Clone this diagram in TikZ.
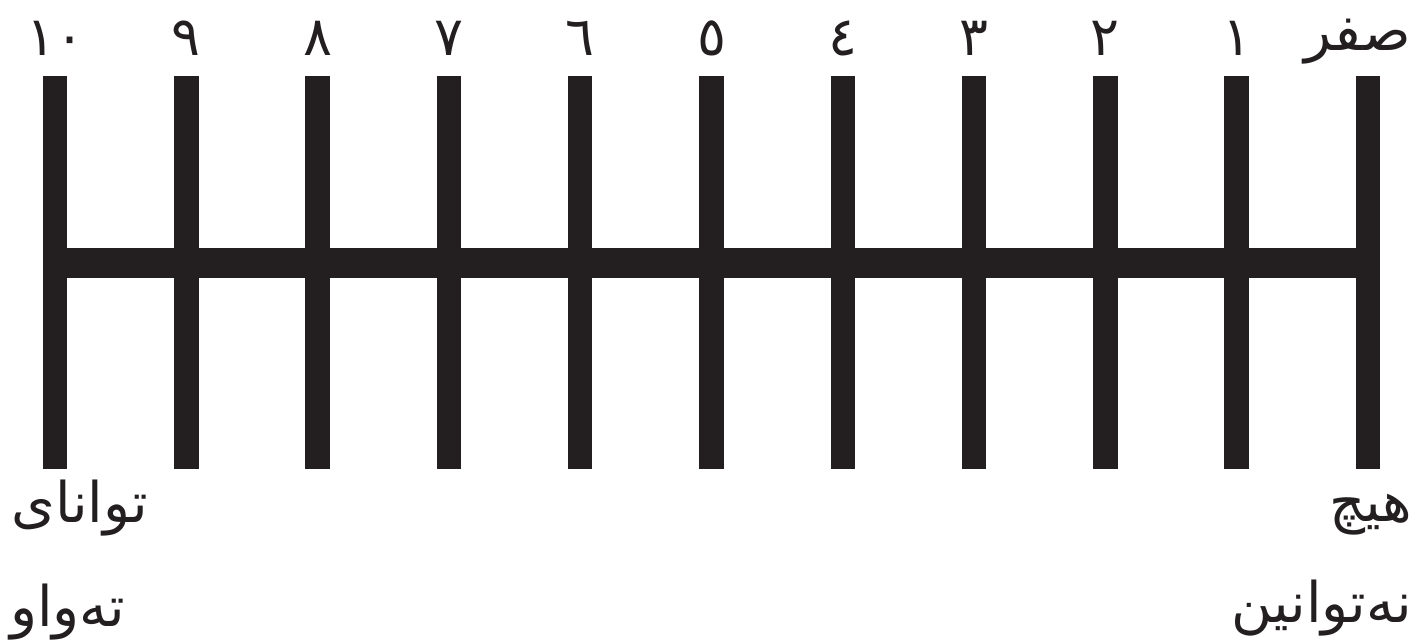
\documentclass[tikz,border=0pt]{standalone}
\usepackage{fontspec}
\TeXXeTstate=1
\newfontfamily\arabicfont[Script=Arabic]{DejaVu Sans}
\definecolor{barblack}{RGB}{35,31,32}
\tikzset{
  vbar/.style={draw=barblack, line width=24.5pt},
  hbar/.style={draw=barblack, line width=30pt},
  digit/.style={font=\arabicfont\fontsize{54}{60}\selectfont, text=barblack, inner sep=0pt},
  word/.style={font=\arabicfont\fontsize{56}{64}\selectfont, text=barblack, inner sep=0pt},
}
\begin{document}
\begin{tikzpicture}[x=1pt,y=-1pt]
\useasboundingbox (0,0) rectangle (1414,641);
% bar positions
\foreach \i in {0,...,10} {
  \pgfmathsetmacro{\xx}{55+131.3*\i}
  \coordinate (t\i) at (\xx,76);
  \coordinate (b\i) at (\xx,469);
}
\draw[hbar] (t0|-0,262.5) coordinate (hl) -- (t10|-0,262.5) coordinate (hr);
\foreach \i in {0,...,10} {
  \draw[vbar] (t\i) -- (b\i);
}
% top digit labels
\node[digit] (d10) at (56,38) {١٠};
\node[digit] (d9) at (186.3,38) {٩};
\node[digit] (d8) at (317.6,38) {٨};
\node[digit] (d7) at (448.9,38) {٧};
\node[digit] (d6) at (580.2,38) {٦};
\node[digit] (d5) at (711.5,38) {٥};
\node[digit] (d4) at (842.8,38) {٤};
\node[digit] (d3) at (974.1,38) {٣};
\node[digit] (d2) at (1105.4,38) {٢};
\node[digit] (d1) at (1236.7,38) {١};
\node[word, anchor=east] (d0) at (1411,42) {\beginR صفر\endR};
% bottom labels
\node[word, anchor=west] (l1) at (11,508) {\beginR توانای\endR};
\node[word, anchor=west] (l2) at (10,612) {\beginR تەواو\endR};
\node[word, anchor=east] (r1) at (1412,515) {\beginR هیچ\endR};
\node[word, anchor=east] (r2) at (1412,608) {\beginR نەتوانین\endR};
\end{tikzpicture}
\end{document}
